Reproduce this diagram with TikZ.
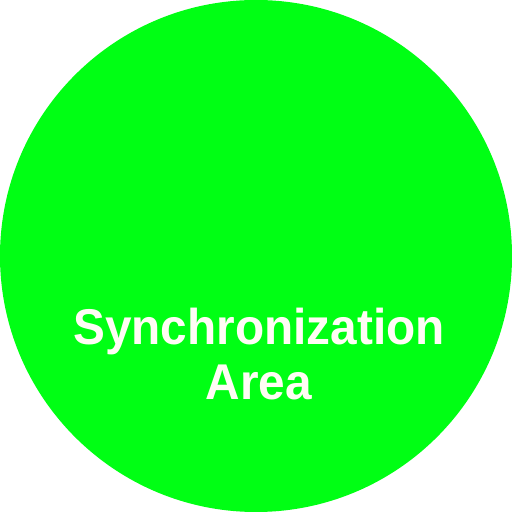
\documentclass[tikz,border=0pt]{standalone}
\usepackage{fontspec}
\usepackage{tikz}
\usetikzlibrary{positioning}
\newfontfamily\arealabelfont{Liberation Sans}
\definecolor{syncgreen}{RGB}{0,255,20}
\definecolor{syncwhite}{RGB}{255,253,245}

\begin{document}
\begin{tikzpicture}
    % 边界
    \useasboundingbox (-2.56, -2.56) rectangle (2.56, 2.56);

    % 圆形区域
    \node[circle, fill=syncgreen, minimum size=5.12cm, inner sep=0pt] (area) at (0, 0) {};

    % 标签
    \node[anchor=base, align=center, text=syncwhite, inner sep=0pt,
          font=\arealabelfont\bfseries\fontsize{14.3}{15.9}\selectfont] (label) at (0.03, -1.44)
          {\scalebox{0.95}[1]{Synchronization}\\\scalebox{0.95}[1]{Area}};
\end{tikzpicture}
\end{document}
